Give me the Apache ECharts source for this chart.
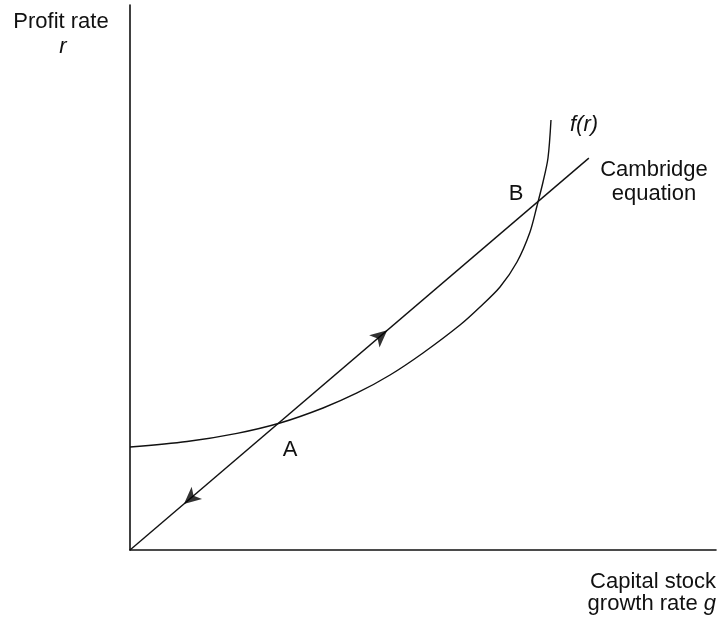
<!DOCTYPE html>
<html>
<head>
<meta charset="utf-8">
<script src="https://cdn.jsdelivr.net/npm/echarts@6/dist/echarts.min.js"></script>
<style>html,body{margin:0;padding:0;background:#fff}#c{width:720px;height:625px}</style>
</head>
<body>
<div id="c"></div>
<script>
// f(r) curve points (g, r) in arbitrary units
const curveG = [0, 9.73, 18.26, 25.60, 32.94, 38.74, 44.37, 50.00, 56.31, 59.73, 63.14, 66.04, 68.26, 69.45, 70.48, 71.33, 71.84];
const curveR = [18.90, 19.90, 21.40, 23.30, 26.06, 28.81, 32.11, 36.15, 41.28, 44.59, 48.26, 52.84, 58.35, 63.12, 67.52, 71.93, 78.90];
// Cambridge equation line endpoints
const lineG = [0, 78.3];
const lineR = [0, 71.9];
// arrow positions along the line (g) and their directions
const arrowG = [43.9, 9.2];
const arrowDir = ['up', 'down'];

const slope = lineR[1] / lineG[1];
const curveData = curveG.map((g, i) => [g, curveR[i]]);
const lineData = lineG.map((g, i) => [g, lineR[i]]);
const arrowData = arrowG.map((g, i) => ({
  value: [g, g * slope],
  symbolRotate: arrowDir[i] === 'up' ? -49.5 : 130.5
}));

const font = '"Liberation Sans", Arial, Helvetica, sans-serif';
const FS = 22;
const txt = (text, x, y, align, italic) => ({
  type: 'text', x: x, y: y,
  style: { text: text, fill: '#111', font: (italic ? 'italic ' : '') + FS + 'px ' + font, textAlign: align, textVerticalAlign: 'middle' }
});

const chart = echarts.init(document.getElementById('c'));
chart.setOption({
  animation: false,
  backgroundColor: '#fff',
  grid: { left: 130, right: 4, top: 5, bottom: 75 },
  xAxis: {
    type: 'value', min: 0, max: 100,
    axisLine: { show: true, onZero: false, lineStyle: { color: '#111', width: 1.6 } },
    axisTick: { show: false }, axisLabel: { show: false }, splitLine: { show: false }
  },
  yAxis: {
    type: 'value', min: 0, max: 100,
    axisLine: { show: true, onZero: false, lineStyle: { color: '#111', width: 1.6 } },
    axisTick: { show: false }, axisLabel: { show: false }, splitLine: { show: false }
  },
  series: [
    {
      type: 'line', data: curveData, smooth: 0.3,
      showSymbol: false, lineStyle: { color: '#111', width: 1.4 }
    },
    {
      type: 'line', data: lineData, showSymbol: false,
      lineStyle: { color: '#111', width: 1.4 }
    },
    {
      type: 'scatter', data: arrowData, symbol: 'arrow', symbolSize: [12, 17],
      itemStyle: { color: '#000' }, z: 5
    }
  ],
  graphic: [
    txt('Profit rate', 61, 22, 'center', false),
    txt('r', 63, 47, 'center', true),
    txt('Capital stock', 716, 582, 'right', false),
    {
      type: 'text', x: 716, y: 604,
      style: {
        text: '{n|growth rate }{i|g}', textAlign: 'right', textVerticalAlign: 'middle',
        rich: {
          n: { fill: '#111', fontSize: FS, fontFamily: font },
          i: { fill: '#111', fontSize: FS, fontFamily: font, fontStyle: 'italic' }
        }
      }
    },
    txt('f(r)', 570, 125, 'left', true),
    txt('Cambridge', 654, 170, 'center', false),
    txt('equation', 654, 194, 'center', false),
    txt('B', 516, 194, 'center', false),
    txt('A', 290, 450, 'center', false)
  ]
});
</script>
</body>
</html>
